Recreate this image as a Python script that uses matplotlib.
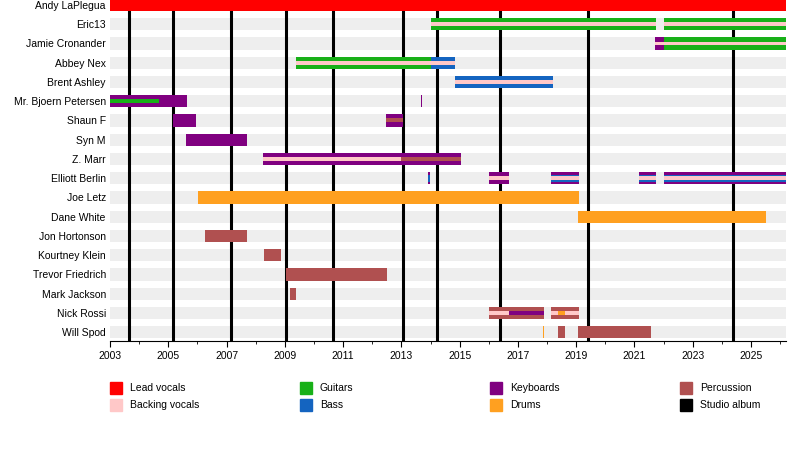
import matplotlib.pyplot as plt
from matplotlib.patches import Rectangle

END = 2026.2

members = ["Andy LaPlegua", "Eric13", "Jamie Cronander", "Abbey Nex", "Brent Ashley",
           "Mr. Bjoern Petersen", "Shaun F", "Syn M", "Z. Marr", "Elliott Berlin",
           "Joe Letz", "Dane White", "Jon Hortonson", "Kourtney Klein", "Trevor Friedrich",
           "Mark Jackson", "Nick Rossi", "Will Spod"]

colors = {
    "Lead vocals": "#ff0000",
    "Backing vocals": "#ffc8c8",
    "Guitars": "#18b018",
    "Bass": "#1464c0",
    "Keyboards": "#800080",
    "Drums": "#ffa020",
    "Percussion": "#b05050",
    "Studio album": "#000000",
}

# (member, start, end, role) - main bars
main_bars = [
    ("Andy LaPlegua", 2003.0, END, "Lead vocals"),
    ("Eric13", 2014.0, 2021.75, "Guitars"),
    ("Eric13", 2022.0, END, "Guitars"),
    ("Jamie Cronander", 2021.72, 2022.0, "Keyboards"),
    ("Jamie Cronander", 2022.0, END, "Guitars"),
    ("Abbey Nex", 2009.4, 2014.0, "Guitars"),
    ("Abbey Nex", 2014.0, 2014.83, "Bass"),
    ("Brent Ashley", 2014.83, 2018.19, "Bass"),
    ("Mr. Bjoern Petersen", 2003.0, 2005.64, "Keyboards"),
    ("Mr. Bjoern Petersen", 2013.68, 2013.72, "Keyboards"),
    ("Shaun F", 2005.16, 2005.95, "Keyboards"),
    ("Shaun F", 2012.46, 2013.04, "Keyboards"),
    ("Syn M", 2005.6, 2007.7, "Keyboards"),
    ("Z. Marr", 2008.25, 2015.03, "Keyboards"),
    ("Elliott Berlin", 2013.93, 2013.97, "Keyboards"),
    ("Elliott Berlin", 2016.0, 2016.7, "Keyboards"),
    ("Elliott Berlin", 2018.15, 2019.08, "Keyboards"),
    ("Elliott Berlin", 2021.17, 2021.75, "Keyboards"),
    ("Elliott Berlin", 2022.0, END, "Keyboards"),
    ("Joe Letz", 2006.02, 2019.08, "Drums"),
    ("Dane White", 2019.05, 2025.52, "Drums"),
    ("Jon Hortonson", 2006.26, 2007.7, "Percussion"),
    ("Kourtney Klein", 2008.3, 2008.86, "Percussion"),
    ("Trevor Friedrich", 2009.03, 2012.5, "Percussion"),
    ("Mark Jackson", 2009.17, 2009.4, "Percussion"),
    ("Nick Rossi", 2016.0, 2017.91, "Percussion"),
    ("Nick Rossi", 2018.15, 2019.08, "Percussion"),
    ("Will Spod", 2017.86, 2017.9, "Drums"),
    ("Will Spod", 2018.36, 2018.63, "Percussion"),
    ("Will Spod", 2019.05, 2021.55, "Percussion"),
]

# middle layer (Elliott Berlin's bass)
mid_bars = [
    ("Elliott Berlin", 2013.93, 2013.97, "Bass"),
    ("Elliott Berlin", 2018.15, 2019.08, "Bass"),
    ("Elliott Berlin", 2021.17, 2021.75, "Bass"),
    ("Elliott Berlin", 2022.0, END, "Bass"),
]

# thin centre stripes
inner_bars = [
    ("Eric13", 2014.0, 2021.75, "Backing vocals"),
    ("Eric13", 2022.0, END, "Backing vocals"),
    ("Jamie Cronander", 2021.72, END, "Backing vocals"),
    ("Abbey Nex", 2009.4, 2014.83, "Backing vocals"),
    ("Brent Ashley", 2014.83, 2018.19, "Backing vocals"),
    ("Mr. Bjoern Petersen", 2003.0, 2004.68, "Guitars"),
    ("Shaun F", 2012.46, 2013.04, "Percussion"),
    ("Z. Marr", 2008.25, 2013.0, "Backing vocals"),
    ("Z. Marr", 2013.0, 2015.03, "Percussion"),
    ("Elliott Berlin", 2016.0, 2016.7, "Backing vocals"),
    ("Elliott Berlin", 2018.15, 2019.08, "Backing vocals"),
    ("Elliott Berlin", 2021.17, 2021.75, "Backing vocals"),
    ("Elliott Berlin", 2022.0, END, "Backing vocals"),
    ("Nick Rossi", 2016.0, 2016.68, "Backing vocals"),
    ("Nick Rossi", 2016.68, 2017.91, "Keyboards"),
    ("Nick Rossi", 2018.15, 2018.36, "Backing vocals"),
    ("Nick Rossi", 2018.36, 2018.63, "Drums"),
    ("Nick Rossi", 2018.63, 2019.08, "Backing vocals"),
]

albums = [2003.65, 2005.16, 2007.15, 2009.03, 2010.65, 2013.04, 2014.21, 2016.40, 2019.42, 2024.39]

legend_order = ["Lead vocals", "Backing vocals", "Guitars", "Bass",
                "Keyboards", "Drums", "Percussion", "Studio album"]

plt.rcParams['font.family'] = ['Liberation Sans', 'DejaVu Sans']
fig = plt.figure(figsize=(8, 4.58), dpi=100)
ax = fig.add_axes([110 / 800, 1 - 341 / 458, 676 / 800, 341 / 458])

row = {m: i for i, m in enumerate(members)}
H = 0.64

ax.barh(range(len(members)), END - 2003.0, left=2003.0, height=H, color="#eeeeee", zorder=1)
for x in albums:
    ax.axvline(x, color="black", linewidth=2.2, zorder=2)


def draw(bars, h):
    for m, s, e, r in bars:
        ax.barh(row[m], e - s, left=s, height=h, color=colors[r], linewidth=0, zorder=3)


draw(main_bars, H)
draw(mid_bars, H * 0.6)
draw(inner_bars, H * 0.32)

ax.set_xlim(2003.0, END)
ax.set_ylim(17.46, -0.26)
ax.set_yticks(range(len(members)))
ax.set_yticklabels(members, fontsize=7.5)
ax.tick_params(axis="y", length=0, pad=3)
ax.set_xticks(range(2003, 2026, 2))
ax.set_xticks(range(2003, 2027), minor=True)
ax.tick_params(axis="x", labelsize=7.5, length=4)
ax.tick_params(axis="x", which="minor", length=2)
for side in ["top", "right", "left"]:
    ax.spines[side].set_visible(False)

# legend: 4 columns, 2 rows, placed in pixel units
for i, name in enumerate(legend_order):
    col, r = i // 2, i % 2
    x0 = 110 + col * 190
    y0 = 388 + r * 17
    fig.patches.append(Rectangle((x0 / 800, 1 - (y0 + 6) / 458), 12 / 800, 12 / 458,
                                 transform=fig.transFigure, color=colors[name]))
    fig.text((x0 + 20) / 800, 1 - y0 / 458, name, fontsize=7.5, va="center")

fig.savefig("out.png", dpi=100)
